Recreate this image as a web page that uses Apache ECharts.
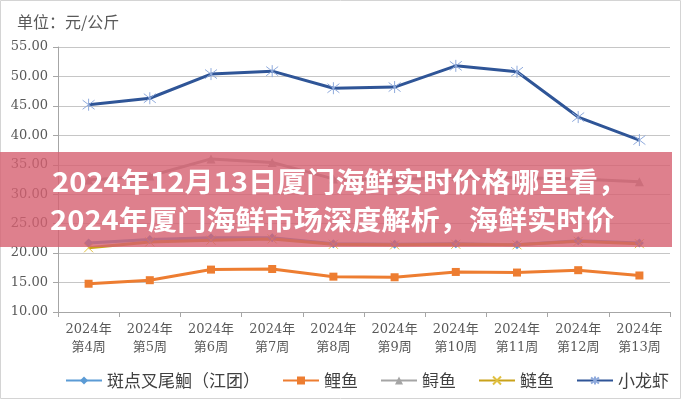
<!DOCTYPE html>
<html>
<head>
<meta charset="utf-8">
<script src="https://cdn.jsdelivr.net/npm/echarts@6/dist/echarts.min.js"></script>
<style>html,body{margin:0;padding:0;background:#fff;}#c{width:682px;height:400px;}</style>
</head>
<body>
<div id="c"></div>
<script>
var categories = ['2024年\n第4周','2024年\n第5周','2024年\n第6周','2024年\n第7周','2024年\n第8周','2024年\n第9周','2024年\n第10周','2024年\n第11周','2024年\n第12周','2024年\n第13周'];
var seriesNames = ['斑点叉尾鮰（江团）','鲤鱼','鲟鱼','鲢鱼','小龙虾'];
var banDian = [21.7, 22.3, 22.6, 22.6, 21.6, 21.5, 21.6, 21.4, 22.1, 21.7];
var liYu = [14.8, 15.4, 17.2, 17.3, 16.0, 15.9, 16.8, 16.7, 17.1, 16.2];
var xunYu = [32.4, 33.1, 36.0, 35.4, 32.6, 32.4, 33.0, 32.8, 32.6, 32.1];
var lianYu = [20.9, 21.9, 22.2, 22.4, 21.5, 21.4, 21.5, 21.4, 22.0, 21.6];
var xiaoLongXia = [45.2, 46.3, 50.4, 50.9, 48.0, 48.2, 51.8, 50.8, 43.1, 39.2];
var yTicks = {min: 10, max: 55, interval: 5};
var unitLabel = '单位：元/公斤';
var bannerLines = ['2024年12月13日厦门海鲜实时价格哪里看，', '2024年厦门海鲜市场深度解析，海鲜实时价'];

var chart = echarts.init(document.getElementById('c'), null, {renderer: 'canvas'});
var starPath = 'path://M5,0L5,10M0.8,1.2L9.2,8.8M9.2,1.2L0.8,8.8';
var crossPath = 'path://M0,0L10,10M10,0L0,10';
var labelFont = "'DejaVu Serif','Noto Sans CJK SC',serif";

function mk(name, data, color, symbol, size, symColor, extra) {
  return {
    name: name, type: 'line', data: data,
    symbol: symbol, symbolSize: size,
    lineStyle: {color: color, width: 3},
    itemStyle: {color: symColor, borderColor: symColor, borderWidth: extra ? 1 : 0},
    emphasis: {disabled: true}
  };
}

var option = {
  animation: false,
  color: ['#5B9BD5','#ED7D31','#A5A5A5','#C9A21B','#2F5597'],
  grid: {left: 58, right: 12, top: 47, bottom: 88},
  graphic: [
    {type: 'rect', z: 1, shape: {x: 0.5, y: 0.5, width: 680, height: 398}, style: {fill: 'none', stroke: '#d4d4d4', lineWidth: 1}},
    {type: 'text', z: 10, left: 17, top: 14, style: {text: unitLabel, font: "16px 'Noto Sans CJK SC'", fill: '#595959'}},
    {type: 'rect', z: 100, shape: {x: 0, y: 152, width: 672, height: 95}, style: {fill: 'rgba(214,96,112,0.8)'}},
    {type: 'text', z: 101, x: 52, y: 182, scaleX: 1.08, style: {text: bannerLines[0], font: "bold 27px 'Noto Sans CJK SC'", fill: '#ffffff', verticalAlign: 'middle', align: 'left'}},
    {type: 'text', z: 101, x: 50, y: 220, scaleX: 1.08, style: {text: bannerLines[1], font: "bold 27px 'Noto Sans CJK SC'", fill: '#ffffff', verticalAlign: 'middle', align: 'left'}}
  ],
  legend: {
    data: seriesNames, left: 60, top: 367, itemWidth: 36, itemHeight: 10, itemGap: 22,
    textStyle: {fontSize: 17, color: '#404040', fontFamily: "'Noto Sans CJK SC'"},
    selectedMode: false
  },
  xAxis: {
    type: 'category', data: categories, boundaryGap: true,
    axisLine: {lineStyle: {color: '#a6a6a6', width: 1}},
    axisTick: {show: true, alignWithLabel: false, length: 5, lineStyle: {color: '#a6a6a6'}},
    axisLabel: {margin: 9, fontSize: 13, lineHeight: 18, color: '#595959', fontFamily: labelFont, interval: 0}
  },
  yAxis: {
    type: 'value', min: yTicks.min, max: yTicks.max, interval: yTicks.interval,
    axisLine: {show: true, lineStyle: {color: '#a6a6a6', width: 1}},
    axisTick: {show: true, length: 5, lineStyle: {color: '#a6a6a6'}},
    splitLine: {lineStyle: {color: '#c6c6c6', width: 1}},
    axisLabel: {margin: 10, fontSize: 13, color: '#595959', fontFamily: labelFont, formatter: function(v){return v.toFixed(2);}}
  },
  series: [
    mk(seriesNames[0], banDian, '#5B9BD5', 'diamond', 9, '#5B9BD5'),
    mk(seriesNames[1], liYu, '#ED7D31', 'rect', 8, '#ED7D31'),
    mk(seriesNames[2], xunYu, '#A5A5A5', 'triangle', 9, '#A5A5A5'),
    mk(seriesNames[3], lianYu, '#C9A21B', crossPath, 9, '#E0C040', true),
    mk(seriesNames[4], xiaoLongXia, '#2F5597', starPath, 12, '#8FAADC', true)
  ]
};
chart.setOption(option);
</script>
</body>
</html>
